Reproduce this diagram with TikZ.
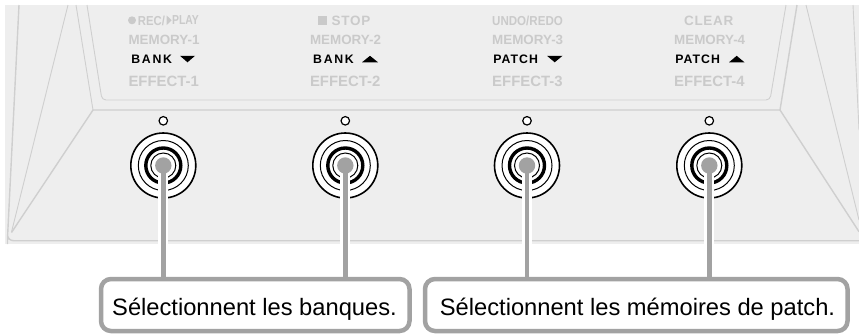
\documentclass[tikz,border=0pt]{standalone}
\usepackage{fontspec}
\setmainfont{Liberation Sans}
\definecolor{panelbg}{HTML}{EEEEEE}
\definecolor{edge}{HTML}{CFCFCF}
\definecolor{faint}{HTML}{CACACA}
\definecolor{leader}{HTML}{A2A2A2}
\newcommand{\fsz}[1]{\fontsize{#1}{#1}\selectfont}
\tikzset{
  edgeline/.style={draw=edge,line width=0.9pt},
  edgethick/.style={draw=edge,line width=1.4pt},
  fainttext/.style={text=faint,font=\bfseries\fsz{13.4},inner sep=0pt,anchor=center},
  effecttext/.style={fainttext,font=\bfseries\fsz{14.9}},
  titletext/.style={fainttext,font=\bfseries\fsz{13.5}\addfontfeature{LetterSpace=5}},
  narrowtext/.style={fainttext,font=\bfseries\fsz{13}},
  banklabel/.style={text=black,inner sep=0pt,anchor=center,font=\bfseries\fsz{12.3}\addfontfeature{LetterSpace=14}},
  patchlabel/.style={text=black,inner sep=0pt,anchor=center,font=\bfseries\fsz{12.3}\addfontfeature{LetterSpace=8}},
  lednode/.style={circle,draw=black,fill=white,line width=1.2pt,minimum size=8.5pt,inner sep=0pt},
  callout/.style={rounded corners=10pt,draw=leader,fill=white,line width=4.5pt,inner sep=0pt,outer sep=0pt},
  callouttext/.style={inner sep=0pt,anchor=base,text=black,font=\fsz{23.7}},
  leaderline/.style={draw=leader,line width=4.5pt},
  halo/.style={draw=white,line width=10pt},
}
\newcommand{\footswitch}[2]{%
  \fill[white] (#1,165.5) circle (33);
  \draw[black,line width=1.6pt] (#1,165.5) circle (32.5);
  \draw[black,line width=1pt] (#1,165.5) circle (25);
  \draw[black,line width=3.4pt] (#1,165.5) circle (17.5);
  \draw[black,line width=1pt] (#1,165.5) circle (12.5);
  \node[lednode] (led#2) at (#1,120.8) {};
  \coordinate (sw#2) at (#1,165.5);
}
\begin{document}
\begin{tikzpicture}[x=1pt,y=-1pt]
\useasboundingbox (0,0) rectangle (859,333);
\fill[panelbg] (5,5) rectangle (859,243.5);
% panel outline
\draw[edgethick,rounded corners=6pt] (19,5) -- (7.5,238) -- (7.5,240.7) -- (859,240.7);
\draw[edgeline] (68,5) -- (11.5,232);
\draw[edgethick] (11.5,232.5) -- (93,110) -- (780,110) -- (859,231.7);
\draw[edgeline] (76,5) -- (93,110);
\draw[edgeline,rounded corners=4pt] (87,5) -- (102,100) -- (770,100) -- (786,5);
\draw[edgethick] (797,5) -- (780,110);
\draw[edgeline] (806,5) -- (859,220);
\draw[edgeline] (853,5) -- (859,130);
% captions
\foreach \x/\a/\b/\c in {164/MEMORY-1/EFFECT-1/1,345.5/MEMORY-2/EFFECT-2/2,527.7/MEMORY-3/EFFECT-3/3,709.7/MEMORY-4/EFFECT-4/4}{
  \node[fainttext] (mem\c) at (\x,40) {\a};
  \node[effecttext] (eff\c) at (\x-0.3,81) {\b};
}
\fill[faint] (132,20.3) circle (4);
\node[narrowtext] (rectext) at (151.5,20.5) {\scalebox{.87}[1]{REC/}};
\fill[faint] (166.7,15.5) -- (171.7,20.3) -- (166.7,25) -- cycle;
\node[narrowtext] (playtext) at (185.5,20.5) {\scalebox{.8}[1]{PLAY}};
\fill[faint] (318.3,15.7) rectangle (327.3,25);
\node[titletext] (stop) at (351,20.5) {STOP};
\node[narrowtext] (undo) at (527.5,20.5) {\scalebox{.89}[1]{UNDO/REDO}};
\node[titletext] (clear) at (708.7,20.5) {CLEAR};
\node[banklabel] (bankA) at (151.7,59.5) {BANK};
\node[banklabel] (bankB) at (333.5,59.5) {BANK};
\node[patchlabel] (patchA) at (515.7,59.5) {PATCH};
\node[patchlabel] (patchB) at (697.7,59.5) {PATCH};
\fill[black] (180,55.8) -- (195,55.8) -- (187.5,62.3) -- cycle;
\fill[black] (362,62.3) -- (378,62.3) -- (370,55.8) -- cycle;
\fill[black] (547,55.8) -- (562.5,55.8) -- (554.7,62.3) -- cycle;
\fill[black] (729,62.3) -- (744.5,62.3) -- (736.7,55.8) -- cycle;
% switches
\footswitch{163.3}{1}
\footswitch{345.3}{2}
\footswitch{527}{3}
\footswitch{709.3}{4}
% callouts
\node[callout,minimum width=308.5pt,minimum height=52pt] (boxA) at (255.25,305) {};
\node[callout,minimum width=422.5pt,minimum height=52pt] (boxB) at (636.25,305) {};
\foreach \n/\b in {1/A,2/A,3/B,4/B}{
  \draw[halo] (sw\n) -- (sw\n |- 0,243.5);
  \fill[leader] (sw\n) circle (8.2);
  \draw[leaderline] (sw\n) -- (sw\n |- box\b.north);
}
\node[callouttext] (textA) at (254.5,315) {Sélectionnent les banques.};
\node[callouttext] (textB) at (637.5,315) {Sélectionnent les mémoires de patch.};
\end{tikzpicture}
\end{document}
